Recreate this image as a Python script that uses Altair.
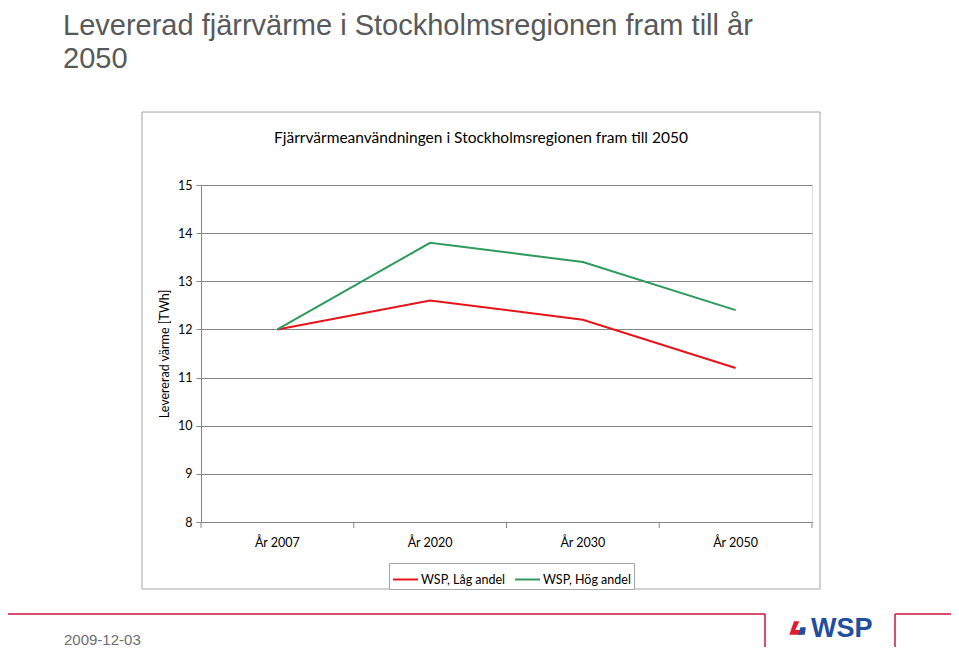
import altair as alt
import pandas as pd

categories = ["År 2007", "År 2020", "År 2030", "År 2050"]
series_names = ["WSP, Låg andel", "WSP, Hög andel"]
low_values = [12.0, 12.6, 12.2, 11.2]
high_values = [12.0, 13.8, 13.4, 12.4]
y_ticks = [8, 9, 10, 11, 12, 13, 14, 15]

slide_title_1 = "Levererad fjärrvärme i Stockholmsregionen fram till år"
slide_title_2 = "2050"
chart_title = "Fjärrvärmeanvändningen i Stockholmsregionen fram till 2050"
y_title = "Levererad värme [TWh]"
date_text = "2009-12-03"

rows = []
for c, v in zip(categories, low_values):
    rows.append({"cat": c, "val": v, "serie": series_names[0]})
for c, v in zip(categories, high_values):
    rows.append({"cat": c, "val": v, "serie": series_names[1]})
df = pd.DataFrame(rows)

W, H = 611, 337
FONT = "Lato"
SANS = "Liberation Sans"

one = pd.DataFrame({"a": [0]})
xscale = alt.Scale(type="band", domain=categories, paddingInner=0, paddingOuter=0)

box = alt.Chart(one).mark_rect(
    fill="white", fillOpacity=0, stroke="#a6a6a6", strokeWidth=1
).encode(x=alt.value(-59), x2=alt.value(619), y=alt.value(-73), y2=alt.value(404))

lines = alt.Chart(df).mark_line(strokeWidth=2).encode(
    x=alt.X("cat:N", scale=xscale, sort=categories,
            axis=alt.Axis(title=None, ticks=False, labelPadding=14, labelFontSize=12.5,
                          labelFont=FONT, labelColor="#000000", domainColor="#868686",
                          labelAngle=0, zindex=1)),
    y=alt.Y("val:Q", scale=alt.Scale(domain=[8, 15], nice=False, zero=False),
            axis=alt.Axis(values=y_ticks, title=y_title, grid=True, gridColor="#868686",
                          gridWidth=1, tickSize=5, tickColor="#868686", domainColor="#868686",
                          labelFont=FONT, labelFontSize=12.5, labelColor="#000000", labelPadding=4,
                          titleFont=FONT, titleFontSize=12.5, titleFontWeight="normal",
                          titleColor="#000000", titleX=-37, titleY=H / 2,
                          titleBaseline="middle", titleAngle=270)),
    color=alt.Color("serie:N",
                    scale=alt.Scale(domain=series_names, range=["#e8141b", "#2e9a5c"]),
                    legend=alt.Legend(title=None, orient="none", legendX=188, legendY=378,
                                      direction="horizontal", symbolType="stroke",
                                      symbolStrokeWidth=2, symbolSize=625,
                                      labelFont=FONT, labelFontSize=12.5, labelColor="#000000",
                                      strokeColor="#a6a6a6", padding=3, fillColor="white",
                                      columnPadding=5, labelOffset=2)),
)

ticks = alt.Chart(pd.DataFrame({"cat": categories})).mark_rule(color="#868686").encode(
    x=alt.X("cat:N", scale=xscale, sort=categories, bandPosition=0),
    y=alt.value(H), y2=alt.value(H + 6)
)
last_tick = alt.Chart(one).mark_rule(color="#868686").encode(
    x=alt.value(W), y=alt.value(H), y2=alt.value(H + 6)
)


def label(text, x, y, font, size, color, align="left", baseline="middle", weight="normal"):
    return alt.Chart(one).mark_text(
        text=text, font=font, fontSize=size, color=color, align=align,
        baseline=baseline, fontWeight=weight
    ).encode(x=alt.value(x), y=alt.value(y))


ctitle = label(chart_title, 280, -47, FONT, 15.5, "#000000", align="center")
stitle1 = label(slide_title_1, -138, -150, SANS, 29, "#58595b", baseline="alphabetic")
stitle2 = label(slide_title_2, -138, -117, SANS, 29, "#58595b", baseline="alphabetic")
date = label(date_text, -137, 455, SANS, 15, "#6d6e71")

RED = "#c8163b"


def seg(x1, x2, y1, y2):
    return alt.Chart(one).mark_rule(color=RED, strokeWidth=1.5).encode(
        x=alt.value(x1), x2=alt.value(x2), y=alt.value(y1), y2=alt.value(y2)
    )


footer = [
    seg(-198, 564, 429, 429),
    seg(564, 564, 429, 466),
    seg(564, 694, 466, 466),
    seg(694, 694, 466, 429),
    seg(694, 760, 429, 429),
]

logo = label("WSP", 610, 444, SANS, 27, "#1f4f9e", weight="bold")

icon_red = alt.Chart(one).mark_point(
    shape="M-0.3,-1 L0.5,-1 L-0.1,0.3 L1,0.3 L0.8,1 L-1,1 Z", filled=True,
    fill="#e01e2b", opacity=1, size=180
).encode(x=alt.value(595), y=alt.value(443))
icon_blue = alt.Chart(one).mark_point(
    shape="M-0.4,-1 L1,-1 L0.7,1 L-1,1 Z", filled=True,
    fill="#1f4f9e", opacity=1, size=60
).encode(x=alt.value(601), y=alt.value(446))

chart = alt.layer(
    box, lines, ticks, last_tick, ctitle, stitle1, stitle2, date, *footer,
    logo, icon_red, icon_blue
).properties(
    width=W, height=H,
    padding={"left": 193, "top": 177, "right": 139, "bottom": 125},
    autosize=alt.AutoSizeParams(type="none")
).configure_view(
    stroke="#868686", strokeWidth=1, fill="#c0c0c0"
).configure(background="white")

chart.save("out.html", embed_options={"renderer": "svg", "actions": False})
